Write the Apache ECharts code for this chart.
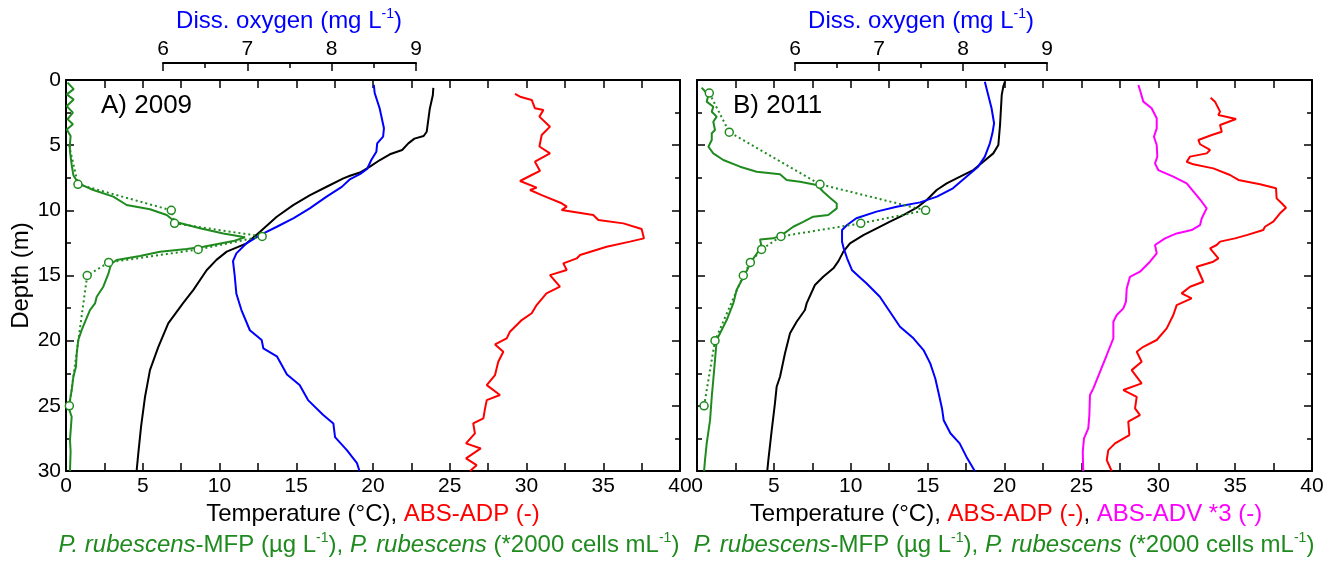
<!DOCTYPE html>
<html>
<head>
<meta charset="utf-8">
<script src="https://cdn.jsdelivr.net/npm/echarts@6/dist/echarts.min.js"></script>
<style>
  html, body { margin: 0; padding: 0; background: #fff; }
  #chart { width: 1332px; height: 561px; }
</style>
</head>
<body>
<div id="chart"></div>
<script>
// [value, depth] pairs

// A) 2009
const tempA = [[23.93,0.6],[23.9,1.15],[23.7,2.2],[23.5,3.97],[23.3,4.3],[22.7,4.5],[22.3,4.86],[21.9,5.37],[21.1,5.7],[20.45,6.14],[19.8,6.65],[19.15,7.1],[18.5,7.35],[18.07,7.55],[16.98,8.19],[15.9,8.83],[14.8,9.6],[13.73,10.49],[12.64,11.64],[11.77,12.53],[10.47,13.17],[9.8,13.8],[9.16,14.6],[8.3,16.1],[7.64,17.1],[6.66,18.67],[6.01,20.5],[5.47,22.26],[5.15,24.3],[4.89,26.6],[4.71,28.65],[4.6,30]];
const oxyA = [[8.50,0.38],[8.51,1.0],[8.57,2.2],[8.62,3.7],[8.61,4.35],[8.54,4.86],[8.53,5.5],[8.47,6.14],[8.42,6.83],[8.34,7.2],[8.22,7.6],[8.12,8.2],[7.94,8.95],[7.74,9.85],[7.55,10.6],[7.35,11.26],[7.15,11.9],[6.99,12.53],[6.87,13.3],[6.83,13.9],[6.85,15.0],[6.87,16.4],[6.93,17.65],[7.03,19.2],[7.17,19.95],[7.19,20.6],[7.35,21.2],[7.47,22.6],[7.62,23.4],[7.72,24.56],[7.9,25.7],[8.02,26.35],[8.04,27.4],[8.18,28.4],[8.30,29.4],[8.33,30]];
const adpA = [[29.25,1.07],[29.58,1.28],[30.34,1.53],[30.55,2.17],[31.1,2.3],[30.84,2.81],[31.53,3.58],[30.99,4.22],[30.84,5.1],[31.53,5.63],[30.55,6.27],[30.88,6.98],[30.34,7.29],[29.58,7.75],[30.66,8.26],[30.23,8.44],[30.99,8.83],[32.29,9.46],[32.62,9.72],[32.29,9.98],[34.35,10.36],[34.68,10.74],[36.31,11.0],[37.5,11.43],[37.65,12.15],[36.74,12.4],[35.22,12.79],[33.49,13.43],[33.27,13.69],[32.4,14.07],[32.62,14.58],[31.53,14.97],[32.18,15.86],[31.3,16.37],[30.66,17.27],[30.34,17.9],[29.69,18.42],[28.92,19.32],[28.71,19.82],[27.95,20.29],[28.49,20.85],[28.16,21.62],[27.95,22.64],[27.41,23.41],[28.27,24.17],[27.41,24.56],[27.3,25.2],[27.19,25.96],[26.53,26.35],[26.64,27.11],[26.06,27.88],[27.02,28.27],[26.06,29.03],[26.75,29.55],[26.32,30]];
const mfpA = [[0.1,0.2],[0.5,0.7],[0.05,1.1],[0.5,1.5],[0.05,2.0],[0.45,2.5],[0.1,3.0],[0.45,3.4],[0.05,3.8],[0.3,4.3],[0.25,5.0],[0.26,5.5],[0.37,6.5],[0.48,7.3],[0.8,7.93],[1.78,8.44],[3.08,8.95],[3.95,9.59],[5.47,9.92],[6.56,10.36],[7.1,10.87],[8.73,11.38],[10.25,11.77],[11.66,12.07],[10.9,12.36],[8.95,12.79],[7.86,12.97],[6.12,13.17],[4.82,13.5],[3.3,13.81],[2.95,14.1],[2.75,14.9],[2.43,15.86],[2.0,16.63],[1.89,17.14],[1.56,17.65],[1.24,18.55],[1.02,19.19],[0.8,19.95],[0.7,20.97],[0.65,22.0],[0.48,22.77],[0.37,23.8],[0.26,24.56],[0.15,25.07],[0.37,25.84],[0.26,27.6],[0.3,28.5],[0.26,30]];
const cellsA = [[0.2,5],[0.78,8],[6.86,10],[7.07,11],[12.78,12],[8.61,13],[2.78,14],[1.38,15],[0.22,25]];

// B) 2011
const tempB = [[20.03,0.13],[19.92,0.51],[19.82,1.15],[19.71,3.45],[19.6,4.99],[19.27,5.63],[18.62,6.27],[17.97,6.91],[17.11,7.42],[16.24,7.93],[15.59,8.44],[14.94,9.21],[14.29,9.8],[13.42,10.36],[12.55,10.87],[11.69,11.38],[10.82,11.9],[9.95,12.53],[9.52,13.17],[9.2,13.9],[8.87,14.45],[8.21,15.1],[7.67,15.73],[7.13,17.14],[7.02,17.65],[6.48,18.55],[6.05,19.44],[5.72,20.98],[5.4,22.77],[5.18,23.54],[5.07,24.81],[4.86,26.86],[4.64,29.16],[4.57,30]];
const oxyB = [[8.26,0.13],[8.30,1.15],[8.34,2.17],[8.37,3.32],[8.35,4.09],[8.32,4.86],[8.26,5.88],[8.18,6.65],[8.04,7.42],[7.88,8.31],[7.69,8.95],[7.49,9.39],[7.21,9.72],[6.97,10.1],[6.73,10.61],[6.62,11.13],[6.56,11.51],[6.56,12.41],[6.58,12.92],[6.62,13.68],[6.68,14.6],[6.78,15.2],[6.85,15.6],[7.01,16.63],[7.13,17.78],[7.25,18.93],[7.41,19.82],[7.53,20.72],[7.61,21.74],[7.67,22.9],[7.71,24.04],[7.75,25.2],[7.77,26.1],[7.85,27.1],[7.96,27.88],[8.04,28.9],[8.14,30]];
const adpB = [[33.41,1.36],[33.69,1.66],[34.02,2.43],[33.91,2.69],[35.06,2.99],[34.02,3.45],[34.13,3.97],[33.48,4.22],[32.61,4.6],[32.72,4.93],[33.37,5.37],[33.15,5.63],[32.07,5.88],[31.85,6.27],[32.28,6.47],[33.58,6.78],[34.67,7.29],[35.21,7.67],[36.62,8.0],[37.66,8.31],[37.7,9.08],[38.03,9.46],[38.31,9.8],[37.92,10.23],[37.48,10.87],[36.94,11.26],[36.83,11.51],[35.75,11.9],[34.99,12.15],[34.02,12.4],[33.8,12.66],[33.37,12.92],[33.91,13.68],[33.58,13.94],[32.5,14.33],[32.93,15.48],[32.07,15.86],[31.52,16.37],[32.17,16.76],[31.2,17.27],[30.98,18.03],[30.55,19.06],[29.9,19.95],[29.03,20.47],[28.6,20.85],[28.92,21.62],[28.27,22.26],[28.92,23.28],[27.73,23.79],[28.6,24.31],[28.49,25.2],[28.81,25.71],[28.05,26.22],[28.12,27.24],[27.19,27.88],[26.75,28.4],[26.65,29.16],[26.97,30]];
const advB = [[28.71,0.38],[28.81,0.77],[29.03,1.66],[29.57,2.17],[29.9,2.94],[29.9,3.71],[29.72,4.35],[29.9,4.99],[29.94,5.88],[29.79,6.4],[30.0,6.91],[30.98,7.42],[31.85,7.93],[32.39,8.7],[32.83,9.34],[33.15,9.85],[32.83,10.61],[32.72,11.13],[32.17,11.51],[31.2,11.77],[30.44,12.15],[29.79,12.66],[29.9,13.3],[29.46,13.94],[28.81,14.71],[28.16,15.1],[27.95,15.99],[27.9,17.01],[27.73,17.52],[27.3,18.03],[27.08,18.55],[27.08,19.82],[26.65,21.1],[26.21,22.39],[25.78,23.66],[25.56,24.17],[25.52,25.71],[25.45,26.73],[25.17,27.5],[25.09,28.53],[25.12,30]];
const mfpB = [[0.3,0.59],[0.74,1.15],[0.63,1.66],[1.06,2.05],[0.96,2.43],[1.28,2.81],[1.06,3.2],[1.17,3.84],[0.96,4.09],[0.96,4.6],[0.74,5.12],[1.06,5.63],[1.71,6.14],[2.8,6.65],[3.88,7.04],[5.4,7.24],[5.83,7.67],[6.7,7.8],[7.79,8.06],[8.21,8.57],[8.65,9.03],[9.09,9.47],[9.09,9.85],[8.54,10.36],[7.56,10.49],[6.91,10.88],[6.26,11.26],[5.51,11.9],[4.96,12.15],[4.1,12.23],[4.2,12.79],[3.56,13.88],[3.12,14.9],[2.58,16.1],[2.36,17.14],[1.93,18.42],[1.71,18.93],[1.28,19.95],[1.17,21.5],[1.06,23.0],[0.96,24.3],[0.85,26.1],[0.63,27.9],[0.52,29.16],[0.46,30]];
const cellsB = [[0.8,1],[2.1,4],[8.0,8],[14.87,10],[10.65,11],[5.46,12],[4.2,13],[3.47,14],[3.01,15],[1.17,20],[0.46,25]];

const bottomTicks = { min: 0, max: 40, interval: 5 };
const oxyTicks = { min: 6, max: 9, interval: 1 };
const depthTicks = { min: 0, max: 30, interval: 5 };

const FONT = 'Liberation Sans, Arial, sans-serif';
const GREEN = '#1f8b1f';
const TITLE_SIZE = 24;

function frameX(grid, pos, labels) {
  return {
    type: 'value', gridIndex: grid, position: pos,
    min: bottomTicks.min, max: bottomTicks.max, interval: bottomTicks.interval,
    axisLine: { show: true, onZero: false, lineStyle: { color: '#000', width: 2 } },
    axisTick: { show: true, inside: true, length: 8, lineStyle: { color: '#000', width: 1.5 } },
    minorTick: { show: true, splitNumber: 2, length: 8, lineStyle: { color: '#000', width: 1.5 } },
    splitLine: { show: false },
    axisLabel: { show: labels, color: '#000', fontSize: 21, fontFamily: FONT, margin: 5 }
  };
}
function frameY(grid, pos, labels) {
  return {
    type: 'value', gridIndex: grid, position: pos, inverse: true,
    min: depthTicks.min, max: depthTicks.max, interval: depthTicks.interval,
    axisLine: { show: true, onZero: false, lineStyle: { color: '#000', width: 2 } },
    axisTick: { show: true, inside: true, length: 8, lineStyle: { color: '#000', width: 1.5 } },
    minorTick: { show: true, splitNumber: 2, length: 5, lineStyle: { color: '#000', width: 1.5 } },
    splitLine: { show: false },
    axisLabel: { show: labels, color: '#000', fontSize: 21, fontFamily: FONT, margin: 5 }
  };
}
function oxyX(grid) {
  return {
    type: 'value', gridIndex: grid, position: 'top', offset: 17,
    min: oxyTicks.min, max: oxyTicks.max, interval: oxyTicks.interval,
    axisLine: { show: true, onZero: false, lineStyle: { color: '#000', width: 2 } },
    axisTick: { show: true, inside: true, length: 8, lineStyle: { color: '#000', width: 1.5 } },
    minorTick: { show: true, splitNumber: 2, length: 5, lineStyle: { color: '#000', width: 1.5 } },
    splitLine: { show: false },
    axisLabel: { color: '#000', fontSize: 21, fontFamily: FONT, margin: 3 }
  };
}
function hiddenY(grid) {
  return { type: 'value', gridIndex: grid, inverse: true, min: 0, max: 30, show: false };
}
function line(data, x, y, color) {
  return {
    type: 'line', data: data, xAxisIndex: x, yAxisIndex: y,
    symbol: 'none', lineStyle: { color: color, width: 2 }, z: 3
  };
}
function dotted(data, x, y, hideFirst) {
  return {
    type: 'line', xAxisIndex: x, yAxisIndex: y,
    data: data.map((d, i) => (hideFirst && i === 0) ? { value: d, symbol: 'none' } : d),
    symbol: 'circle', symbolSize: 8, showSymbol: true,
    itemStyle: { color: '#fff', borderColor: GREEN, borderWidth: 1.5 },
    lineStyle: { color: GREEN, width: 2, type: [2, 3] }, z: 4
  };
}

const sup = { fontSize: 14, verticalAlign: 'top', lineHeight: 27 };
function txt(x, y, text) {
  return {
    type: 'text', x: x, y: y, z: 10,
    style: {
      text: text, rich: richCols, fontSize: TITLE_SIZE, fontFamily: FONT,
      align: 'center', verticalAlign: 'middle', textAlign: 'center', textVerticalAlign: 'middle'
    }
  };
}
function base(fill, extra) {
  return Object.assign({ fill: fill, fontSize: TITLE_SIZE, fontFamily: FONT, lineHeight: 27 }, extra || {});
}
const richCols = {
  k: base('#000'),
  r: base('#ff0000'),
  m: base('#ff00ff'),
  b: base('#0000ff'),
  bs: Object.assign({ fill: '#0000ff', fontFamily: FONT }, sup),
  g: base(GREEN),
  gi: base(GREEN, { fontStyle: 'italic' }),
  gs: Object.assign({ fill: GREEN, fontFamily: FONT }, sup)
};
const greenLabel = '{gi|P. rubescens}{g|-MFP (µg L}{gs|-1}{g|), }{gi|P. rubescens}{g| (*2000 cells mL}{gs|-1}{g|)}';
const oxyLabel = '{b|Diss. oxygen (mg L}{bs|-1}{b|)}';

const chart = echarts.init(document.getElementById('chart'), null, { renderer: 'canvas' });
chart.setOption({
  animation: false,
  backgroundColor: '#fff',
  grid: [
    { left: 66, top: 80, width: 614, height: 391 },
    { left: 697, top: 80, width: 615, height: 391 },
    { left: 163, top: 80, width: 253, height: 391 },
    { left: 795, top: 80, width: 252, height: 391 }
  ],
  xAxis: [
    frameX(0, 'bottom', true), frameX(0, 'top', false),
    frameX(1, 'bottom', true), frameX(1, 'top', false),
    oxyX(2), oxyX(3)
  ],
  yAxis: [
    Object.assign(frameY(0, 'left', true), {
      name: 'Depth (m)', nameLocation: 'middle', nameGap: 31, nameRotate: 90,
      nameTextStyle: { color: '#000', fontSize: TITLE_SIZE, fontFamily: FONT }
    }),
    frameY(0, 'right', false),
    frameY(1, 'left', false), frameY(1, 'right', false),
    hiddenY(2), hiddenY(3)
  ],
  series: [
    line(tempA, 0, 0, '#000'),
    line(adpA, 0, 0, '#ff0000'),
    line(mfpA, 0, 0, GREEN),
    dotted(cellsA, 0, 0, true),
    line(oxyA, 4, 4, '#0000ff'),
    line(tempB, 2, 2, '#000'),
    line(adpB, 2, 2, '#ff0000'),
    line(advB, 2, 2, '#ff00ff'),
    line(mfpB, 2, 2, GREEN),
    dotted(cellsB, 2, 2, false),
    line(oxyB, 5, 5, '#0000ff')
  ],
  graphic: [
    txt(289, 21, oxyLabel),
    txt(921, 21, oxyLabel),
    { type: 'text', left: 101, top: 93, z: 10, style: { text: 'A) 2009', fill: '#000', fontSize: 26, fontFamily: FONT } },
    { type: 'text', left: 733, top: 93, z: 10, style: { text: 'B) 2011', fill: '#000', fontSize: 26, fontFamily: FONT } },
    txt(373, 514, '{k|Temperature (°C), }{r|ABS-ADP (-)}'),
    txt(1006, 514, '{k|Temperature (°C), }{r|ABS-ADP (-)}{k|, }{m|ABS-ADV *3 (-)}'),
    txt(369, 545, greenLabel),
    txt(1004, 545, greenLabel)
  ]
});
</script>
</body>
</html>
